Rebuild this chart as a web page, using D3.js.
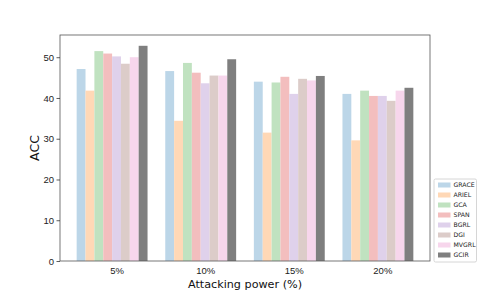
<!DOCTYPE html>
<html>
<head>
<meta charset="utf-8">
<script src="https://cdn.jsdelivr.net/npm/d3@7"></script>
<style>
  body { margin: 0; background: #fff; }
  svg { font-family: "DejaVu Sans", sans-serif; }
</style>
</head>
<body>
<svg id="chart" width="478" height="294"></svg>
<script>
  // Data
  const categories = ["5%", "10%", "15%", "20%"];
  const methods = ["GRACE", "ARIEL", "GCA", "SPAN", "BGRL", "DGI", "MVGRL", "GCIR"];
  const GRACE = [47.1, 46.6, 44.0, 41.0];
  const ARIEL = [41.8, 34.4, 31.5, 29.6];
  const GCA = [51.5, 48.6, 43.8, 41.8];
  const SPAN = [50.9, 46.2, 45.2, 40.5];
  const BGRL = [50.2, 43.6, 41.0, 40.5];
  const DGI = [48.4, 45.5, 44.7, 39.3];
  const MVGRL = [50.0, 45.5, 44.3, 41.8];
  const GCIR = [52.8, 49.5, 45.4, 42.5];
  const series = [GRACE, ARIEL, GCA, SPAN, BGRL, DGI, MVGRL, GCIR];
  const colors = ["#bcd6e8", "#ffd8b6", "#c0e2c0", "#f3bebe", "#dfd1eb", "#dcccc9", "#f7d6ec", "#7f7f7f"];
  const yTicks = [0, 10, 20, 30, 40, 50];

  // Chart dimensions
  const marginLeft = 60;
  const marginRight = 48;
  const marginTop = 35;
  const marginBottom = 33;
  const width = 478;
  const height = 294;

  const svg = d3.select("#chart");

  // Scales
  const x = d3
    .scaleBand()
    .domain(categories)
    .range([marginLeft, width - marginRight])
    .paddingInner(0.2)
    .paddingOuter(0.188);

  const xInner = d3
    .scaleBand()
    .domain(methods)
    .range([0, x.bandwidth()]);

  const y = d3
    .scaleLinear()
    .domain([0, 55.45])
    .range([height - marginBottom, marginTop]);

  // Bars
  methods.forEach((m, i) => {
    svg
      .append("g")
      .selectAll("rect")
      .data(series[i])
      .enter()
      .append("rect")
      .attr("x", (d, j) => x(categories[j]) + xInner(m))
      .attr("y", (d) => y(d))
      .attr("width", xInner.bandwidth())
      .attr("height", (d) => y(0) - y(d))
      .attr("fill", colors[i]);
  });

  // Frame
  svg
    .append("rect")
    .attr("x", marginLeft)
    .attr("y", marginTop)
    .attr("width", width - marginRight - marginLeft)
    .attr("height", height - marginBottom - marginTop)
    .attr("fill", "none")
    .attr("stroke", "#555")
    .attr("stroke-width", 0.8);

  // Y axis
  const yAxis = svg
    .append("g")
    .attr("transform", `translate(${marginLeft},0)`)
    .call(d3.axisLeft(y).tickValues(yTicks).tickSize(3.5).tickPadding(2.5));
  yAxis.select(".domain").remove();
  yAxis.selectAll("line").attr("stroke", "#333").attr("stroke-width", 0.8);
  yAxis.selectAll("text").attr("font-size", 9.5).attr("fill", "#222");

  // X axis (labels centred on the 5th bar)
  const xAxis = svg
    .append("g")
    .call(
      d3
        .axisBottom(d3.scalePoint().domain(categories).range([x(categories[0]), x(categories[3])]))
        .tickSize(0)
        .tickPadding(6)
    );
  xAxis.attr("transform", `translate(${xInner(methods[4]) + xInner.bandwidth() / 2},${height - marginBottom})`);
  xAxis.select(".domain").remove();
  xAxis.selectAll("text").attr("font-size", 9.5).attr("fill", "#222");

  // Axis titles
  svg
    .append("text")
    .attr("x", (marginLeft + width - marginRight) / 2)
    .attr("y", 287.5)
    .attr("text-anchor", "middle")
    .attr("font-size", 11.2)
    .attr("fill", "#111")
    .text("Attacking power (%)");

  svg
    .append("text")
    .attr("transform", `translate(39,${(marginTop + height - marginBottom) / 2}) rotate(-90)`)
    .attr("text-anchor", "middle")
    .attr("font-size", 12.5)
    .attr("fill", "#111")
    .text("ACC");

  // Legend
  const legend = svg.append("g").attr("transform", "translate(434,179)");
  legend
    .append("rect")
    .attr("width", 42.5)
    .attr("height", 83)
    .attr("rx", 1.5)
    .attr("fill", "#fff")
    .attr("stroke", "#ccc")
    .attr("stroke-width", 0.8);
  methods.forEach((m, i) => {
    const row = legend.append("g").attr("transform", `translate(0,${6 + i * 10})`);
    row
      .append("rect")
      .attr("x", 4)
      .attr("y", -2.5)
      .attr("width", 12.5)
      .attr("height", 5)
      .attr("fill", colors[i]);
    row
      .append("text")
      .attr("x", 19.5)
      .attr("y", 2.2)
      .attr("font-size", 6.2)
      .attr("fill", "#222")
      .text(m);
  });
</script>
</body>
</html>
